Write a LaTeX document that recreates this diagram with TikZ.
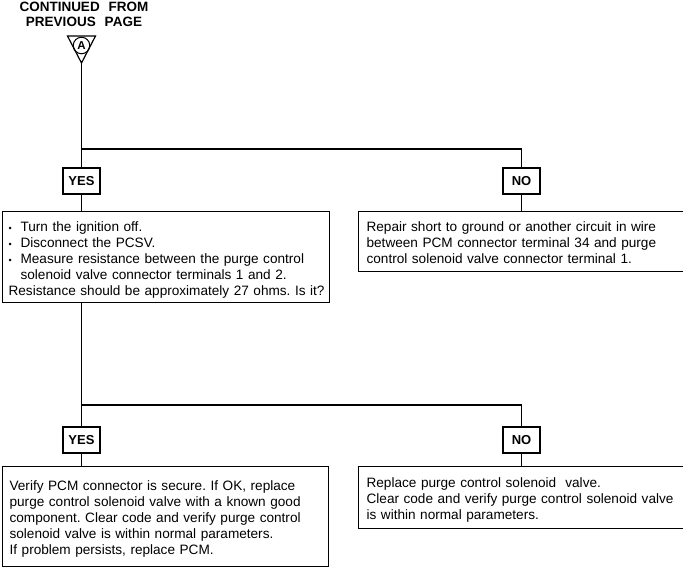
\documentclass[tikz,border=0pt]{standalone}
\usepackage{fontspec}
\setmainfont{Liberation Sans}
\newcommand{\lines}[1]{\raisebox{-3pt}[\height][\depth]{\begin{tabular}{@{}l@{}}#1\end{tabular}}}
\begin{document}
\frenchspacing
\begin{tikzpicture}[x=1pt,y=-1pt,
  line/.style={line width=1.2pt},
  box/.style={draw, line width=1.2pt, anchor=north west, align=left, inner xsep=6pt, inner ysep=0pt,
    font=\fontsize{13.6}{15.9}\selectfont},
  tag/.style={draw, line width=1.2pt, minimum width=37pt, minimum height=26pt, inner sep=0pt,
    font=\bfseries\fontsize{13}{14}\selectfont},
  head/.style={font=\bfseries\fontsize{13.5}{15}\selectfont, inner sep=0pt}]
\useasboundingbox (0,0) rectangle (683,567);
\node[head] (h1) at (84,6.5) {CONTINUED\hspace{9pt}FROM};
\node[head] (h2) at (84,21.5) {PREVIOUS\hspace{9pt}PAGE};
\draw[line] (67.5,36) -- (95.5,36) -- (81.5,63) -- cycle;
\coordinate (apex) at (81.5,63);
\node[draw, circle, line width=1pt, minimum size=16.5pt, inner sep=0pt, font=\bfseries\fontsize{11.5}{12}\selectfont] (A) at (81.5,45.5) {A};

\node[tag] (yes1) at (81.5,181) {YES};
\node[tag] (no1) at (521.5,181) {NO};
\coordinate (j1) at (81.5,149);

\node[box, minimum width=327pt, minimum height=91pt, text width=315pt] (b1) at (2,211)
{\lines{\makebox[12pt][l]{\small•}Turn the ignition off.\\
\makebox[12pt][l]{\small•}Disconnect the PCSV.\\
\makebox[12pt][l]{\small•}Measure resistance between the purge control\\
\hspace*{12pt}solenoid valve connector terminals 1 and 2.\\
Resistance should be approximately 27 ohms. Is it?}};

\node[box, minimum width=323pt, minimum height=60pt, text width=311pt, inner xsep=8pt] (b2) at (358,211)
{\lines{Repair short to ground or another circuit in wire\\
between PCM connector terminal 34 and purge\\
control solenoid valve connector terminal 1.}};

\node[tag] (yes2) at (81.5,440) {YES};
\node[tag] (no2) at (521.5,440) {NO};
\coordinate (j2) at (81.5,405);

\node[box, minimum width=326pt, minimum height=100pt, text width=312pt, inner xsep=7pt] (b3) at (2,466)
{\lines{Verify PCM connector is secure. If OK, replace\\
purge control solenoid valve with a known good\\
component. Clear code and verify purge control\\
solenoid valve is within normal parameters.\\
If problem persists, replace PCM.}};

\node[box, minimum width=323pt, minimum height=62pt, text width=311pt, inner xsep=8pt] (b4) at (358,466)
{\lines{Replace purge control solenoid\ \ valve.\\
Clear code and verify purge control solenoid valve\\
is within normal parameters.}};

\draw[line] (apex) -- (yes1.north);
\draw[line] (j1) -| (no1.north);
\draw[line] (yes1.south) -- (b1.north -| yes1.south);
\draw[line] (no1.south) -- (b2.north -| no1.south);
\draw[line] (b1.south -| yes1.south) -- (yes2.north);
\draw[line] (j2) -| (no2.north);
\draw[line] (yes2.south) -- (b3.north -| yes2.south);
\draw[line] (no2.south) -- (b4.north -| no2.south);
\end{tikzpicture}
\end{document}
